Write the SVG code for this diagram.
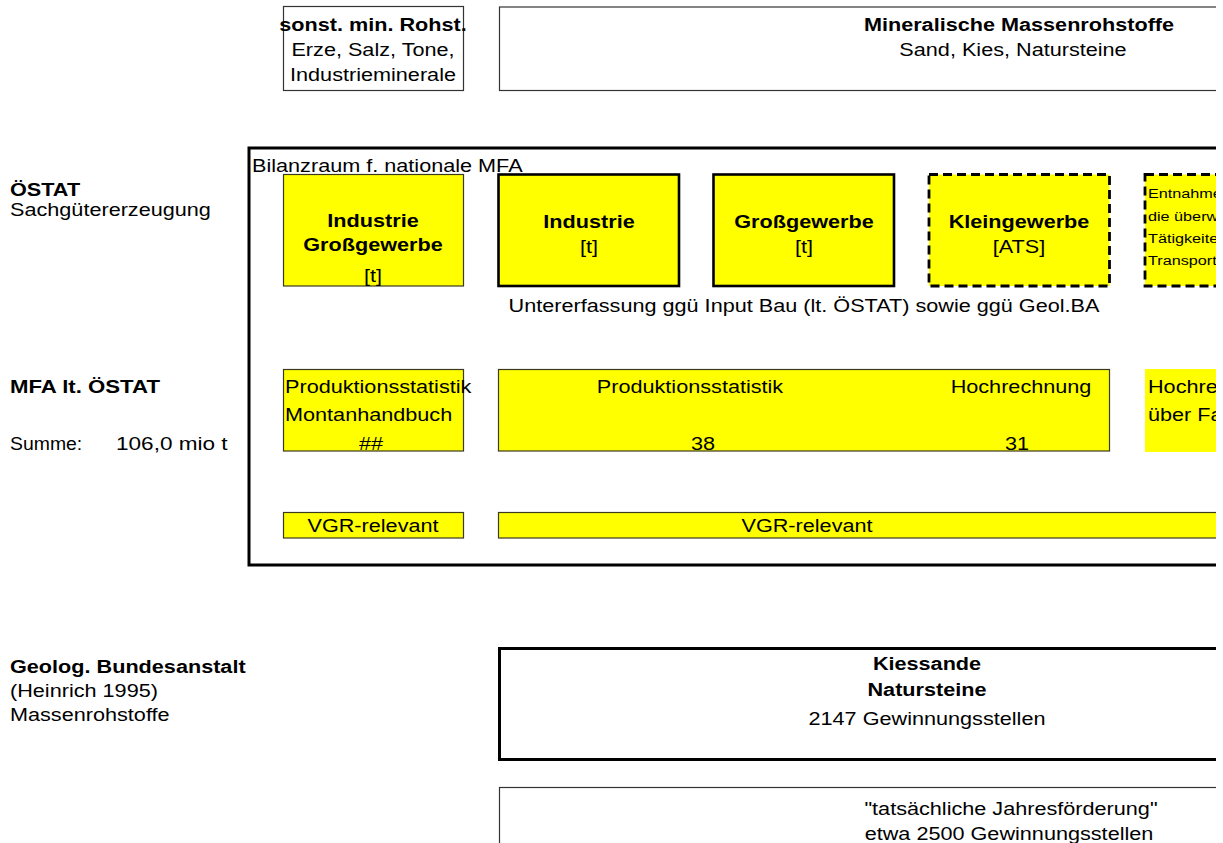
<svg xmlns="http://www.w3.org/2000/svg" width="1223" height="843" viewBox="0 0 1223 843">
<style>
.t{font-family:"Liberation Sans",Arial,sans-serif;font-size:18.5px;fill:#000}
.b{font-weight:bold}
.m{text-anchor:middle}
.s{font-size:13.5px}
.y{fill:#ffff00}
.thin{stroke:#3a3a20;stroke-width:1.2;fill:#ffff00}
.thick{stroke:#000;stroke-width:2.6;fill:#ffff00}
.dash{stroke:#000;stroke-width:2.8;stroke-dasharray:9 5;fill:#ffff00}
.wb{fill:#fff;stroke:#333;stroke-width:1.2}
</style>
<defs>
<clipPath id="clip"><rect x="0" y="0" width="1216" height="843"/></clipPath>
</defs>
<rect x="0" y="0" width="1223" height="843" fill="#fff"/>
<g clip-path="url(#clip)">
<g id="labels">
<text class="t b" transform="translate(10,196) scale(1.17,1)">ÖSTAT</text>
<text class="t" transform="translate(10,216) scale(1.17,1)">Sachgütererzeugung</text>
<text class="t b" transform="translate(10,393) scale(1.2,1)">MFA lt. ÖSTAT</text>
<text class="t" transform="translate(10,450) scale(1.05,1)">Summe:</text>
<text class="t" transform="translate(116,450) scale(1.22,1)">106,0 mio t</text>
<text class="t b" transform="translate(10,673) scale(1.17,1)">Geolog. Bundesanstalt</text>
<text class="t" transform="translate(10,697) scale(1.17,1)">(Heinrich 1995)</text>
<text class="t" transform="translate(10,721) scale(1.17,1)">Massenrohstoffe</text>
</g>
<g id="sonst">
<rect x="283.5" y="6.5" width="180" height="84" class="wb"/>
<text class="t b m" transform="translate(373,31) scale(1.17,1)">sonst. min. Rohst.</text>
<text class="t m" transform="translate(373,56) scale(1.17,1)">Erze, Salz, Tone,</text>
<text class="t m" transform="translate(373,81) scale(1.17,1)">Industrieminerale</text>
</g>
<g id="mineralisch">
<rect x="499.5" y="7" width="800" height="83.5" class="wb"/>
<text class="t b m" transform="translate(1019,31) scale(1.17,1)">Mineralische Massenrohstoffe</text>
<text class="t m" transform="translate(1013,56) scale(1.17,1)">Sand, Kies, Natursteine</text>
</g>
<g id="bilanzraum">
<rect x="249" y="148" width="1100" height="417" fill="none" stroke="#000" stroke-width="3"/>
<text class="t" transform="translate(252,172) scale(1.17,1)">Bilanzraum f. nationale MFA</text>
<text class="t m" transform="translate(804,312) scale(1.17,1)">Untererfassung ggü Input Bau (lt. ÖSTAT) sowie ggü Geol.BA</text>
</g>
<g id="industrie-grossgewerbe">
<rect x="283.5" y="174.5" width="180" height="111.5" class="thin"/>
<text class="t b m" transform="translate(373,227) scale(1.17,1)">Industrie</text>
<text class="t b m" transform="translate(373,251) scale(1.17,1)">Großgewerbe</text>
<text class="t m" transform="translate(373,282) scale(1.17,1)">[t]</text>
</g>
<g id="industrie">
<rect x="498.5" y="174.5" width="180.5" height="111.5" class="thick"/>
<text class="t b m" transform="translate(589,228) scale(1.17,1)">Industrie</text>
<text class="t m" transform="translate(589,253) scale(1.17,1)">[t]</text>
</g>
<g id="grossgewerbe">
<rect x="713.5" y="174.5" width="180.5" height="111.5" class="thick"/>
<text class="t b m" transform="translate(804,228) scale(1.17,1)">Großgewerbe</text>
<text class="t m" transform="translate(804,253) scale(1.17,1)">[t]</text>
</g>
<g id="kleingewerbe">
<rect x="929" y="174.5" width="180.5" height="111.5" class="dash"/>
<text class="t b m" transform="translate(1019,228) scale(1.17,1)">Kleingewerbe</text>
<text class="t m" transform="translate(1019,253) scale(1.17,1)">[ATS]</text>
</g>
<g id="entnahme">
<rect x="1145" y="174.5" width="200" height="111.5" class="dash"/>
<text class="t s" transform="translate(1148,198) scale(1.2,1)">Entnahme</text>
<text class="t s" transform="translate(1148,221) scale(1.2,1)">die überw</text>
<text class="t s" transform="translate(1148,243) scale(1.2,1)">Tätigkeite</text>
<text class="t s" transform="translate(1148,265) scale(1.2,1)">Transport</text>
</g>
<g id="produktion-montan">
<rect x="283.5" y="369.5" width="180" height="81.5" class="thin"/>
<text class="t" transform="translate(285,393) scale(1.17,1)">Produktionsstatistik</text>
<text class="t" transform="translate(285,421) scale(1.17,1)">Montanhandbuch</text>
<text class="t m" transform="translate(371,450) scale(1.17,1)">##</text>
</g>
<g id="produktion-hochrechnung">
<rect x="498.5" y="369.5" width="611" height="81.5" class="thin"/>
<text class="t m" transform="translate(690,393) scale(1.17,1)">Produktionsstatistik</text>
<text class="t m" transform="translate(1021,393) scale(1.17,1)">Hochrechnung</text>
<text class="t m" transform="translate(703,450) scale(1.17,1)">38</text>
<text class="t m" transform="translate(1017,450) scale(1.17,1)">31</text>
</g>
<g id="hochrechnung-fa">
<rect x="1145" y="369" width="200" height="83" class="y"/>
<text class="t" transform="translate(1148,393) scale(1.17,1)">Hochre</text>
<text class="t" transform="translate(1148,421) scale(1.17,1)">über Fa</text>
</g>
<g id="vgr1">
<rect x="283.5" y="512.5" width="180" height="25.5" class="thin"/>
<text class="t m" transform="translate(373,532) scale(1.17,1)">VGR-relevant</text>
</g>
<g id="vgr2">
<rect x="498.5" y="512.5" width="800" height="25.5" class="thin"/>
<text class="t m" transform="translate(807,532) scale(1.17,1)">VGR-relevant</text>
</g>
<g id="geolog">
<rect x="499.5" y="648.5" width="800" height="111" fill="#fff" stroke="#000" stroke-width="3"/>
<text class="t b m" transform="translate(927,670) scale(1.17,1)">Kiessande</text>
<text class="t b m" transform="translate(927,696) scale(1.17,1)">Natursteine</text>
<text class="t m" transform="translate(927,725) scale(1.17,1)">2147 Gewinnungsstellen</text>
</g>
<g id="jahresfoerderung">
<rect x="499.5" y="787.5" width="800" height="80" class="wb"/>
<text class="t m" transform="translate(1011,815) scale(1.17,1)">"tatsächliche Jahresförderung"</text>
<text class="t m" transform="translate(1009,840) scale(1.17,1)">etwa 2500 Gewinnungsstellen</text>
</g>
<g id="connectors"></g>
</g>
</svg>
